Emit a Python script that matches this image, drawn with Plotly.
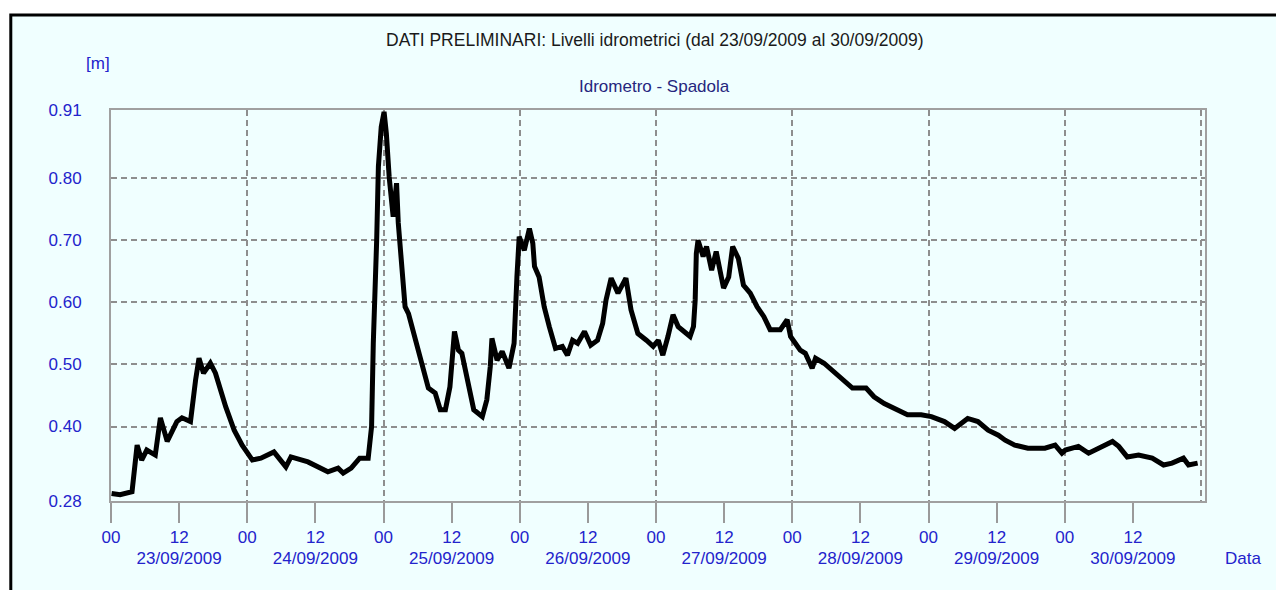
import pandas as pd
import plotly.graph_objects as go

START = pd.Timestamp("2009-09-23 00:00")

# hours elapsed since 23/09/2009 00:00 and level in metres
hours = [
    0.1, 1.6, 3.7, 4.3, 4.6, 5.4, 6.3, 7.8, 8.7, 9.9, 11.6, 12.5, 14.0, 14.9, 15.5, 16.3,
    17.5, 18.4, 20.2, 21.7, 23.1, 24.9, 26.4, 28.7, 30.8, 31.7, 34.7, 38.2, 40.0, 40.9,
    42.3, 43.8, 45.3, 45.9, 46.2, 46.8, 47.1, 47.6, 48.1, 48.5, 49.0, 49.7, 50.3, 50.6,
    51.5, 51.8, 52.4, 53.3, 54.1, 55.0, 55.9, 57.1, 58.0, 58.9, 59.7, 60.5, 61.2, 61.8,
    62.7, 63.9, 65.4, 66.2, 66.8, 67.1, 68.0, 68.9, 70.1, 71.0, 71.5, 71.9, 72.8, 73.7,
    74.3, 74.6, 75.4, 76.3, 77.2, 78.3, 79.5, 80.4, 81.3, 82.2, 83.4, 84.5, 85.7, 86.6,
    87.2, 88.1, 89.3, 90.7, 91.6, 92.8, 94.3, 95.5, 96.4, 97.2, 98.1, 99.0, 99.9, 101.1,
    102.0, 102.6, 102.9, 103.1, 103.4, 104.3, 104.9, 105.8, 106.6, 107.9, 108.8, 109.5,
    110.5, 111.4, 112.6, 113.8, 115.0, 116.1, 117.9, 119.1, 119.7, 121.4, 122.3, 123.5,
    124.1, 125.6, 127.4, 128.8, 130.6, 133.0, 134.4, 136.2, 138.0, 140.3, 142.7, 144.5,
    146.8, 148.6, 150.9, 152.7, 154.5, 156.3, 157.5, 159.2, 161.5, 164.5, 166.3, 167.5,
    168.1, 170.4, 172.2, 173.9, 176.4, 177.5, 179.0, 181.0, 183.4, 185.4, 186.9, 188.9,
    189.8, 191.4,
]
levels = [
    0.292, 0.290, 0.295, 0.341, 0.370, 0.346, 0.362, 0.354, 0.414, 0.376, 0.408, 0.414,
    0.408, 0.475, 0.510, 0.486, 0.502, 0.486, 0.432, 0.394, 0.370, 0.346, 0.349, 0.359,
    0.335, 0.351, 0.343, 0.327, 0.333, 0.325, 0.333, 0.349, 0.349, 0.400, 0.534, 0.701,
    0.819, 0.883, 0.907, 0.872, 0.802, 0.738, 0.792, 0.728, 0.620, 0.593, 0.582, 0.550,
    0.523, 0.486, 0.462, 0.454, 0.427, 0.427, 0.464, 0.553, 0.523, 0.518, 0.475, 0.427,
    0.416, 0.443, 0.496, 0.542, 0.507, 0.521, 0.494, 0.534, 0.641, 0.706, 0.684, 0.719,
    0.695, 0.658, 0.641, 0.593, 0.561, 0.526, 0.529, 0.515, 0.539, 0.534, 0.553, 0.531,
    0.539, 0.566, 0.604, 0.639, 0.615, 0.639, 0.588, 0.550, 0.539, 0.529, 0.539, 0.515,
    0.545, 0.580, 0.561, 0.553, 0.545, 0.561, 0.604, 0.679, 0.700, 0.674, 0.690, 0.652,
    0.682, 0.623, 0.641, 0.690, 0.671, 0.628, 0.615, 0.593, 0.577, 0.556, 0.556, 0.572,
    0.545, 0.523, 0.518, 0.494, 0.510, 0.502, 0.488, 0.478, 0.462, 0.462, 0.448, 0.437,
    0.429, 0.419, 0.419, 0.416, 0.408, 0.397, 0.413, 0.408, 0.394, 0.386, 0.378, 0.370,
    0.365, 0.365, 0.370, 0.357, 0.362, 0.368, 0.357, 0.365, 0.376, 0.368, 0.351, 0.354,
    0.349, 0.338, 0.341, 0.349, 0.338, 0.341,
]

y_ticks = [0.28, 0.40, 0.50, 0.60, 0.70, 0.80, 0.91]
y_labels = ["0.28", "0.40", "0.50", "0.60", "0.70", "0.80", "0.91"]
days = ["23/09/2009", "24/09/2009", "25/09/2009", "26/09/2009",
        "27/09/2009", "28/09/2009", "29/09/2009", "30/09/2009"]

times = START + pd.to_timedelta(hours, unit="h")
hour_ticks = pd.date_range(START, START + pd.Timedelta(hours=180), freq="12h")
noon_ticks = [START + pd.Timedelta(days=i, hours=12) for i in range(len(days))]
x_range = [START, START + pd.Timedelta(hours=192.7)]

FONT = "Liberation Sans, Arial, sans-serif"
BLUE = "#2323CC"
GRID = "#8E8E8E"

fig = go.Figure()
fig.add_trace(go.Scatter(x=times, y=levels, mode="lines",
                         line={"color": "#000000", "width": 5}, showlegend=False))
# invisible copy so the date row axis gets drawn
fig.add_trace(go.Scatter(x=times, y=levels, mode="lines", xaxis="x2", opacity=0,
                         hoverinfo="skip", showlegend=False))

# the page body adds an 8px offset, so the figure is 8px smaller than the window
fig.update_layout(
    width=1276, height=582,
    paper_bgcolor="#FFFFFF",
    plot_bgcolor="rgba(0,0,0,0)",
    font={"family": FONT, "size": 17, "color": BLUE},
    margin={"l": 103, "r": 79, "t": 102, "b": 89},
    showlegend=False,
    xaxis={
        "type": "date", "range": x_range,
        "tickvals": list(hour_ticks), "ticktext": [t.strftime("%H") for t in hour_ticks],
        "ticks": "outside", "ticklen": 20, "tickwidth": 2, "tickcolor": "#9A9A9A",
        "showgrid": False, "showline": True, "linecolor": "#A0A0A0", "linewidth": 2,
        "mirror": True, "zeroline": False,
        "minor": {"dtick": 86400000, "tick0": START, "showgrid": True,
                  "gridcolor": GRID, "gridwidth": 1.5, "griddash": "6px,4px", "ticks": ""},
    },
    xaxis2={
        "type": "date", "range": x_range, "overlaying": "x", "anchor": "y", "side": "bottom",
        "tickvals": noon_ticks, "ticktext": days,
        "ticks": "outside", "ticklen": 42, "tickcolor": "rgba(0,0,0,0)",
        "showgrid": False, "showline": False, "zeroline": False,
    },
    yaxis={
        "range": [0.28, 0.91], "tickvals": y_ticks, "ticktext": y_labels,
        "ticks": "", "ticklabelstandoff": 24,
        "showgrid": True, "gridcolor": GRID, "gridwidth": 1.5, "griddash": "6px,4px",
        "showline": True, "linecolor": "#A0A0A0", "linewidth": 2, "mirror": True,
        "zeroline": False,
    },
    shapes=[{
        "type": "rect", "xref": "paper", "yref": "paper", "layer": "below",
        "x0": -0.0916, "x1": 1.2, "y0": -0.3, "y1": 1.243,
        "fillcolor": "#F0FFFF", "line": {"color": "#000000", "width": 3},
    }],
    annotations=[
        {"text": "DATI PRELIMINARI: Livelli idrometrici (dal 23/09/2009 al 30/09/2009)",
         "xref": "paper", "yref": "paper", "x": 0.497, "y": 1.179, "showarrow": False,
         "xanchor": "center", "yanchor": "middle", "font": {"color": "#1A1A1A", "size": 17.5}},
        {"text": "Idrometro - Spadola", "xref": "paper", "yref": "paper", "x": 0.497, "y": 1.059,
         "showarrow": False, "xanchor": "center", "yanchor": "middle",
         "font": {"color": "#26267E", "size": 17}},
        {"text": "[m]", "xref": "paper", "yref": "paper", "x": -0.012, "y": 1.12,
         "showarrow": False, "xanchor": "center", "yanchor": "middle"},
        {"text": "Data", "xref": "paper", "yref": "paper", "x": 1.035, "y": -0.146,
         "showarrow": False, "xanchor": "center", "yanchor": "middle"},
    ],
)

fig.write_html("out.html")
